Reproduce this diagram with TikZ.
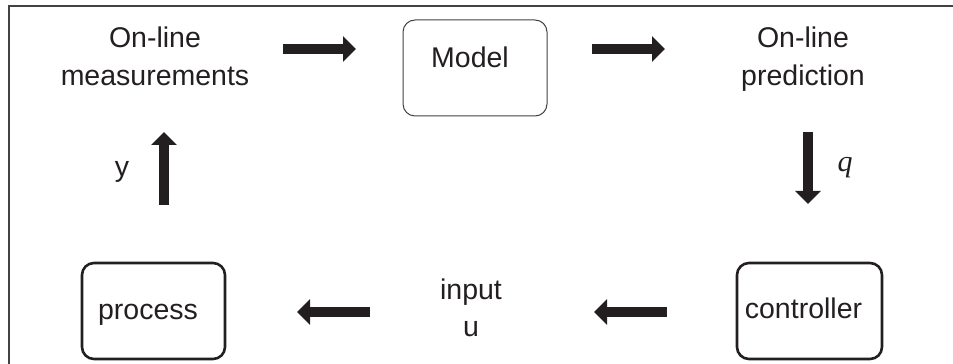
\documentclass[tikz,border=0pt]{standalone}
\usepackage{fontspec}
\setmainfont{Liberation Sans}
\newfontfamily\qfont{Liberation Serif}
\usetikzlibrary{arrows.meta}
\definecolor{ink}{HTML}{231F20}
\begin{document}
\begin{tikzpicture}[x=1pt,y=1pt,
  lbl/.style={anchor=base,inner sep=0pt,text=ink,font=\fontsize{28.5}{38}\selectfont,align=center},
  thinbox/.style={draw=ink!85,line width=1pt,rounded corners=12pt,minimum width=144pt,minimum height=96pt,inner sep=0pt},
  boldbox/.style={draw=ink,line width=2.6pt,rounded corners=12pt,minimum width=143pt,minimum height=96pt,inner sep=0pt},
  fat/.style={draw=ink,line width=10pt,-{Triangle[length=13pt,width=25pt]}}]
\useasboundingbox (0,0) rectangle (953,364);
% outer frame (top and left edges)
\draw[ink!85,line width=1.8pt] (9,0) -- (9,358) -- (953,358);
% boxes
\node[thinbox] (model) at (475,296) {};
\node[boldbox] (process) at (153.5,53) {};
\node[boldbox,minimum width=145pt] (controller) at (809.5,53) {};
% texts
\node[lbl] (meas1) at (155,316) {On-line};
\node[lbl] (meas2) at (155,278) {measurements};
\node[lbl] (pred1) at (803,316) {On-line};
\node[lbl] (pred2) at (803,278) {prediction};
\node[lbl] (modeltxt) at (470,296) {Model};
\node[lbl] (proctxt) at (148,44) {process};
\node[lbl] (ctrltxt) at (803.5,45) {controller};
\node[lbl] (in1) at (471,64) {input};
\node[lbl] (in2) at (471,27) {u};
\node[lbl] (ylbl) at (122,187) {y};
\node[lbl,font=\fontsize{30}{36}\qfont\itshape] (qlbl) at (845,192) {q};
% arrow end points
\coordinate (a1s) at (283,315); \coordinate (a1e) at (356,315);
\coordinate (a2s) at (592,315); \coordinate (a2e) at (665,315);
\coordinate (a3s) at (808,232); \coordinate (a3e) at (808,160);
\coordinate (a4s) at (667,52);  \coordinate (a4e) at (594,52);
\coordinate (a5s) at (370,52);  \coordinate (a5e) at (297,52);
\coordinate (a6s) at (164,159); \coordinate (a6e) at (164,232);
% block arrows
\draw[fat] (a1s) -- (a1e);
\draw[fat] (a2s) -- (a2e);
\draw[fat] (a3s) -- (a3e);
\draw[fat] (a4s) -- (a4e);
\draw[fat] (a5s) -- (a5e);
\draw[fat] (a6s) -- (a6e);
\end{tikzpicture}
\end{document}
